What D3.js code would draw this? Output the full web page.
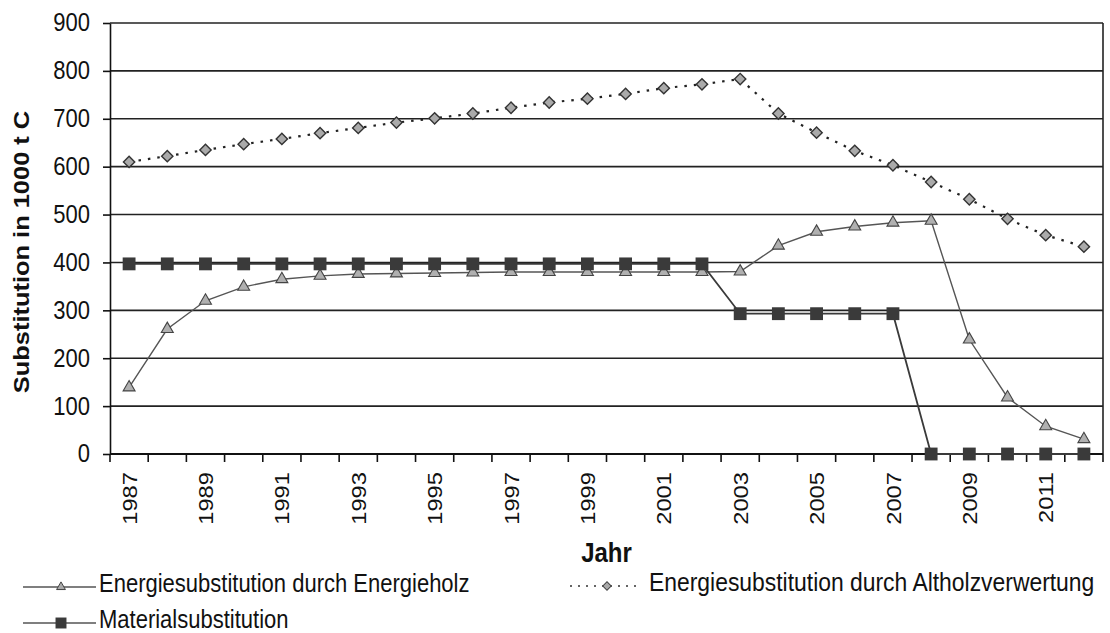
<!DOCTYPE html>
<html>
<head>
<meta charset="utf-8">
<script src="https://cdn.jsdelivr.net/npm/d3@7"></script>
<style>
  body { margin: 0; background: #fff; }
  text { font-family: "Liberation Sans", Arial, sans-serif; fill: #111; }
</style>
</head>
<body>
<div id="chart"></div>
<script>
// data
var years = [1987, 1988, 1989, 1990, 1991, 1992, 1993, 1994, 1995, 1996, 1997, 1998, 1999,
             2000, 2001, 2002, 2003, 2004, 2005, 2006, 2007, 2008, 2009, 2010, 2011, 2012];
var energieholz = [139, 261, 320, 349, 365, 372, 376, 377, 378, 379, 380, 380, 380,
                   380, 380, 380, 381, 435, 464, 475, 483, 487, 239, 118, 58, 31];
var altholz = [610, 622, 635, 647, 658, 670, 681, 692, 701, 711, 723, 734, 742,
               752, 764, 772, 783, 711, 671, 633, 603, 568, 532, 491, 457, 433];
var material = [397, 397, 397, 397, 397, 397, 397, 397, 397, 397, 397, 397, 397,
                397, 397, 397, 293, 293, 293, 293, 293, 0, 0, 0, 0, 0];
var yTicks = [0, 100, 200, 300, 400, 500, 600, 700, 800, 900];
var xLabels = years.filter(function(y) { return y % 2 === 1; });
var seriesNames = ["Energiesubstitution durch Energieholz",
                   "Energiesubstitution durch Altholzverwertung",
                   "Materialsubstitution"];

var width = 1110,
    height = 633,
    stretch = 1.13, // the picture is a bit taller than wide
    margin = { top: 23, left: 110, right: 7, bottom: 179 };

var svg = d3.select("#chart")
    .append("svg")
    .attr("width", width)
    .attr("height", height);

var x = d3.scaleBand()
    .domain(years)
    .range([margin.left, width - margin.right]);

var y = d3.scaleLinear()
    .domain([0, 900])
    .range([height - margin.bottom, margin.top]);

// horizontal grid lines
svg.append("g")
    .selectAll("line")
    .data(yTicks)
    .enter().append("line")
    .attr("x1", margin.left)
    .attr("x2", width - margin.right)
    .attr("y1", function(d) { return y(d); })
    .attr("y2", function(d) { return y(d); })
    .attr("stroke", "#222")
    .attr("stroke-width", 1.6);

// right border
svg.append("line")
    .attr("x1", width - margin.right).attr("x2", width - margin.right)
    .attr("y1", y(900)).attr("y2", y(0))
    .attr("stroke", "#222").attr("stroke-width", 1.6);

// y axis
var yAxis = svg.append("g")
    .attr("transform", "translate(" + margin.left + ",0)")
    .call(d3.axisLeft(y).tickValues(yTicks).tickSize(7).tickSizeOuter(0).tickPadding(13));
yAxis.select(".domain").attr("stroke", "#111").attr("stroke-width", 1.6);
yAxis.selectAll(".tick line").attr("stroke", "#111").attr("stroke-width", 1.6);
yAxis.selectAll(".tick text")
    .style("font-size", "22px")
    .attr("fill", "#222")
    .attr("transform", "scale(1," + stretch + ")");

// x axis line and ticks between the categories
var bounds = years.map(function(d) { return x(d); }).concat([x.range()[1]]);
svg.append("line")
    .attr("x1", margin.left).attr("x2", width - margin.right)
    .attr("y1", y(0)).attr("y2", y(0))
    .attr("stroke", "#111").attr("stroke-width", 1.8);
svg.append("g")
    .selectAll("line")
    .data(bounds)
    .enter().append("line")
    .attr("x1", function(d) { return d; })
    .attr("x2", function(d) { return d; })
    .attr("y1", y(0))
    .attr("y2", y(0) + 8)
    .attr("stroke", "#111")
    .attr("stroke-width", 1.6);

// x labels, every second year, rotated
svg.append("g")
    .selectAll("text")
    .data(xLabels)
    .enter().append("text")
    .attr("transform", function(d) {
        return "translate(" + (x(d) + x.bandwidth() / 2) + "," + (y(0) + 18) + ") rotate(-90) scale(" + stretch + ",1)";
    })
    .attr("dy", "0.36em")
    .attr("text-anchor", "end")
    .style("font-size", "21px")
    .attr("fill", "#222")
    .text(function(d) { return d; });

// axis titles
svg.append("text")
    .attr("transform", "translate(29,252) rotate(-90) scale(" + stretch + ",1)")
    .attr("text-anchor", "middle")
    .style("font-size", "22.5px")
    .style("font-weight", "bold")
    .text("Substitution in 1000 t C");

svg.append("text")
    .attr("transform", "translate(" + ((margin.left + width - margin.right) / 2) + ",562) scale(1," + stretch + ")")
    .attr("text-anchor", "middle")
    .style("font-size", "24px")
    .style("font-weight", "bold")
    .text("Jahr");

var cx = function(d, i) { return x(years[i]) + x.bandwidth() / 2; };

var line = function(values) {
    return d3.line()
        .x(function(d, i) { return cx(d, i); })
        .y(function(d) { return y(d); })(values);
};

var triangle = d3.symbol(d3.symbolTriangle, 62),
    square = d3.symbol(d3.symbolSquare, 165),
    diamond = d3.symbol(d3.symbolSquare, 64);

// Energieholz
svg.append("path")
    .attr("d", line(energieholz))
    .attr("fill", "none")
    .attr("stroke", "#555")
    .attr("stroke-width", 1.4);

// Materialsubstitution
svg.append("path")
    .attr("d", line(material))
    .attr("fill", "none")
    .attr("stroke", "#3a3a3a")
    .attr("stroke-width", 1.8);

// Altholz dotted
svg.append("path")
    .attr("d", line(altholz))
    .attr("fill", "none")
    .attr("stroke", "#222")
    .attr("stroke-width", 2.2)
    .attr("stroke-dasharray", "2.5,7");

svg.append("g")
    .selectAll("path")
    .data(energieholz)
    .enter().append("path")
    .attr("d", triangle)
    .attr("transform", function(d, i) { return "translate(" + cx(d, i) + "," + y(d) + ")"; })
    .attr("fill", "#b0b0b0")
    .attr("stroke", "#444")
    .attr("stroke-width", 1.1);

svg.append("g")
    .selectAll("path")
    .data(material)
    .enter().append("path")
    .attr("d", square)
    .attr("transform", function(d, i) { return "translate(" + cx(d, i) + "," + y(d) + ")"; })
    .attr("fill", "#3a3a3a");

svg.append("g")
    .selectAll("path")
    .data(altholz)
    .enter().append("path")
    .attr("d", diamond)
    .attr("transform", function(d, i) { return "translate(" + cx(d, i) + "," + y(d) + ") rotate(45)"; })
    .attr("fill", "#aaa")
    .attr("stroke", "#333")
    .attr("stroke-width", 1.4);

// legend
var legend = [
    { name: seriesNames[0], x: 23, y: 587, size: 22, gap: 76, marker: "tri" },
    { name: seriesNames[1], x: 570, y: 586, size: 22.9, gap: 79, marker: "dia" },
    { name: seriesNames[2], x: 23, y: 623, size: 22, gap: 76, marker: "sq" }
];

var item = svg.append("g")
    .selectAll("g")
    .data(legend)
    .enter().append("g")
    .attr("transform", function(d) { return "translate(" + d.x + "," + d.y + ")"; });

item.append("line")
    .attr("x1", 0).attr("x2", function(d) { return d.marker === "dia" ? 68 : 73; })
    .attr("stroke", function(d) { return d.marker === "dia" ? "#333" : "#555"; })
    .attr("stroke-width", function(d) { return d.marker === "dia" ? 1.6 : 1.3; })
    .attr("stroke-dasharray", function(d) { return d.marker === "dia" ? "2,6" : null; });

item.append("path")
    .attr("d", function(d) {
        if (d.marker === "tri") return d3.symbol(d3.symbolTriangle, 34)();
        if (d.marker === "sq") return d3.symbol(d3.symbolSquare, 120)();
        return d3.symbol(d3.symbolSquare, 36)();
    })
    .attr("transform", function(d) {
        return d.marker === "dia" ? "translate(37,0) rotate(45)" : "translate(38,0)";
    })
    .attr("fill", function(d) { return d.marker === "sq" ? "#3a3a3a" : "#aaa"; })
    .attr("stroke", function(d) { return d.marker === "sq" ? "none" : "#444"; })
    .attr("stroke-width", 1);

item.append("text")
    .attr("transform", function(d) {
        return "translate(" + d.gap + ",5) scale(1," + stretch + ")";
    })
    .style("font-size", function(d) { return d.size + "px"; })
    .attr("fill", "#111")
    .text(function(d) { return d.name; });
</script>
</body>
</html>
